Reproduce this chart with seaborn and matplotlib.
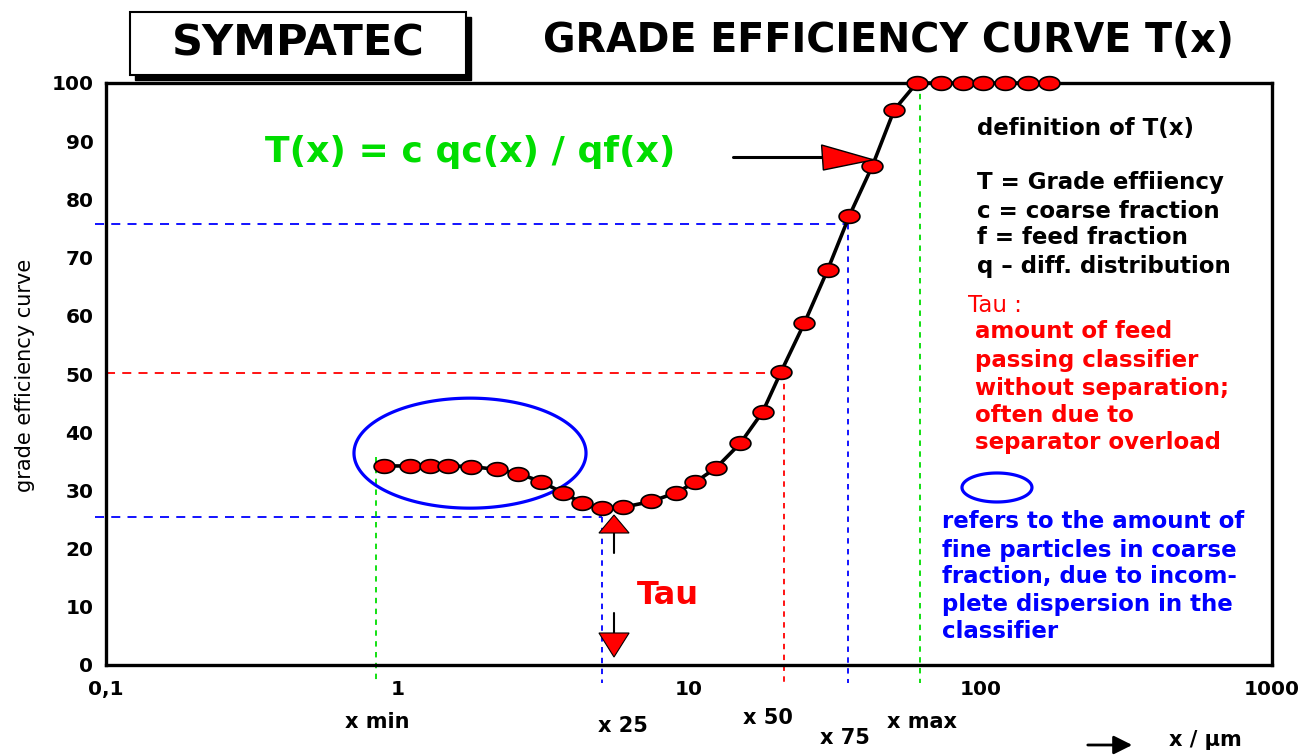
import numpy as np
import matplotlib
matplotlib.use("Agg")
import matplotlib.pyplot as plt
import seaborn as sns
import pandas as pd
from matplotlib.path import Path
from matplotlib.patches import Rectangle, Polygon, FancyArrowPatch
from matplotlib.ticker import FixedLocator, FixedFormatter, NullFormatter, LogLocator, MultipleLocator

# ---------------- data ----------------
particle_size_um = [0.90, 1.10, 1.29, 1.49, 1.79, 2.19, 2.60, 3.11, 3.69, 4.28,
                    5.01, 5.95, 7.42, 9.03, 10.5, 12.4, 15.0, 17.9, 20.7, 24.9,
                    29.9, 35.5, 42.6, 50.6, 60.4, 73.0, 87.3, 101.7, 121.4, 145.9, 172.2]
grade_efficiency = [34.2, 34.2, 34.2, 34.2, 34.1, 33.6, 32.9, 31.5, 29.6, 27.9,
                    26.9, 27.1, 28.1, 29.6, 31.4, 33.9, 38.1, 43.5, 50.4, 58.8,
                    67.9, 77.2, 85.8, 95.4, 100, 100, 100, 100, 100, 100, 100]

x_tick_values = [0.1, 1, 10, 100, 1000]
x_tick_labels = ["0,1", "1", "10", "100", "1000"]
y_tick_values = [0, 10, 20, 30, 40, 50, 60, 70, 80, 90, 100]

# characteristic sizes (µm) and levels (%)
x_min, x_25, x_50, x_75, x_max = 0.844, 5.01, 21.2, 35.2, 62.0
tau_level, t50_level, t75_level = 25.4, 50.1, 75.8

definition_lines = ["definition of T(x)", "T = Grade effiiency", "c = coarse fraction",
                    "f = feed fraction", "q \u2013 diff. distribution"]
tau_lines = ["amount of feed", "passing classifier", "without separation;",
             "often due to", "separator overload"]
blue_lines = ["refers to the amount of", "fine particles in coarse",
              "fraction, due to incom-", "plete dispersion in the", "classifier"]
size_labels = ["x min", "x 25", "x 50", "x 75", "x max"]

# ---------------- style ----------------
sns.set_style("white")
plt.rcParams['font.family'] = ['DejaVu Sans']
plt.rcParams['text.color'] = 'black'
plt.rcParams['axes.labelcolor'] = 'black'
plt.rcParams['xtick.color'] = 'black'
plt.rcParams['ytick.color'] = 'black'

W, H = 1300, 756
fig = plt.figure(figsize=(13, 7.56), dpi=100)
fig.patch.set_facecolor("white")
ax = fig.add_axes([106 / W, 91 / H, 1166 / W, 582 / H])

def fx(px):
    return px / W

def fy(py):
    return 1 - py / H

# ellipse shaped marker
t = np.linspace(0, 2 * np.pi, 41)
marker_path = Path(np.c_[np.cos(t), 0.66 * np.sin(t)], closed=True)

df = pd.DataFrame({"x": particle_size_um, "T": grade_efficiency})

ax.set_xscale("log")
ax.set_xlim(0.1, 1000)
ax.set_ylim(0, 100)

# reference lines
blue, red, green = "#0000ff", "#ff0000", "#00dd00"
ybot = -3.1
ax.plot([0.092, x_25], [tau_level, tau_level], color=blue, lw=1.3, ls=(0, (5, 4)), clip_on=False)
ax.plot([x_25, x_25], [tau_level, ybot], color=blue, lw=1.3, ls=(0, (3, 3)), clip_on=False)
ax.plot([0.092, x_75], [t75_level, t75_level], color=blue, lw=1.3, ls=(0, (5, 4)), clip_on=False)
ax.plot([x_75, x_75], [t75_level, ybot], color=blue, lw=1.3, ls=(0, (3, 3)), clip_on=False)
ax.plot([0.1, x_50], [t50_level, t50_level], color=red, lw=1.3, ls=(0, (5, 4)), clip_on=False)
ax.plot([x_50, x_50], [t50_level, ybot], color=red, lw=1.3, ls=(0, (3, 3)), clip_on=False)
ax.plot([x_min, x_min], [35.8, ybot], color=green, lw=1.3, ls=(0, (3, 3)), clip_on=False)
ax.plot([x_max, x_max], [100, ybot], color=green, lw=1.3, ls=(0, (3, 3)), clip_on=False)

# curve
sns.lineplot(data=df, x="x", y="T", ax=ax, color="black", linewidth=2.6,
             marker=marker_path, markersize=15, markerfacecolor="red",
             markeredgecolor="black", markeredgewidth=1.2,
             estimator=None, sort=False, zorder=6, clip_on=False)

# big ellipse around fine-particle plateau
te = np.linspace(0, 2 * np.pi, 241)
ecx, ecy, erx, ery = np.log10(1.773), 36.4, 0.398, 9.45
ax.add_patch(Polygon(np.c_[10 ** (ecx + erx * np.cos(te)), ecy + ery * np.sin(te)],
                     closed=True, fill=False, ec=blue, lw=2.3, zorder=4))
# small legend ellipse
scx, scy, srx, sry = np.log10(113.9), 30.5, 0.12, 2.49
ax.add_patch(Polygon(np.c_[10 ** (scx + srx * np.cos(te)), scy + sry * np.sin(te)],
                     closed=True, fill=False, ec=blue, lw=2.3, zorder=4))

# arrow pointing to curve
ax.plot([14.2, 28.7], [87.3, 87.3], color="black", lw=2.2, zorder=5)
ax.add_patch(Polygon([(28.5, 89.35), (28.9, 85.05), (42.9, 86.8)], closed=True,
                     fc="red", ec="black", lw=1, zorder=7))

# Tau arrows
ax.plot([5.53, 5.53], [22.68, 19.24], color="black", lw=1.5)
ax.add_patch(Polygon([(4.91, 22.68), (6.23, 22.68), (5.53, 25.77)], closed=True,
                     fc="red", ec="black", lw=0.8, zorder=7))
ax.plot([5.53, 5.53], [8.93, 5.5], color="black", lw=1.5)
ax.add_patch(Polygon([(4.91, 5.5), (6.23, 5.5), (5.53, 1.37)], closed=True,
                     fc="red", ec="black", lw=0.8, zorder=7))
ax.text(8.47, 12.0, "Tau", color=red, fontsize=23, fontweight="bold", ha="center", va="center")

# axes styling
ax.xaxis.set_major_locator(FixedLocator(x_tick_values))
ax.xaxis.set_major_formatter(FixedFormatter(x_tick_labels))
ax.xaxis.set_minor_locator(LogLocator(base=10, subs=np.arange(2, 10)))
ax.xaxis.set_minor_formatter(NullFormatter())
ax.set_yticks(y_tick_values)
ax.yaxis.set_minor_locator(MultipleLocator(5))
ax.tick_params(which="major", direction="in", length=9, width=1.5, labelsize=14.5, pad=9,
               colors="black", labelcolor="black")
ax.tick_params(which="minor", direction="in", length=5, width=1.2, colors="black")
ax.tick_params(axis="x", which="major", pad=11)
for lbl in ax.get_xticklabels() + ax.get_yticklabels():
    lbl.set_fontweight("bold")
    lbl.set_color("black")
for s in ax.spines.values():
    s.set_linewidth(2.4)
    s.set_color("black")
ax.set_xlabel("")
ax.set_ylabel("grade efficiency curve", fontsize=15, color="black")
ax.yaxis.set_label_coords(-0.061, 0.498)

# headline
fig.patches.append(Rectangle((fx(135), fy(80)), 336 / W, 63 / H, transform=fig.transFigure,
                             fc="black", ec="black", lw=1, zorder=1))
fig.patches.append(Rectangle((fx(130), fy(75)), 336 / W, 63 / H, transform=fig.transFigure,
                             fc="white", ec="black", lw=1.5, zorder=2))
fig.text(fx(298), fy(43), "SYMPATEC", fontsize=31, fontweight="bold", color="black",
         ha="center", va="center", zorder=3)
fig.text(fx(543), fy(41), "GRADE EFFICIENCY CURVE T(x)", fontsize=28.5, fontweight="bold",
         color="black", ha="left", va="center")
fig.text(fx(265), fy(152), "T(x) = c qc(x) / qf(x)", fontsize=26, fontweight="bold",
         color=green, ha="left", va="center")

# right side annotations
for line, py in zip(definition_lines, [128, 183, 211, 238, 266]):
    fig.text(fx(977), fy(py), line, fontsize=16.5, fontweight="bold", color="black", ha="left", va="center")
fig.text(fx(968), fy(305), "Tau :", fontsize=16.5, color=red, ha="left", va="center")
for line, py in zip(tau_lines, [332, 360, 388, 416, 443]):
    fig.text(fx(975), fy(py), line, fontsize=16.5, fontweight="bold", color=red, ha="left", va="center")
for line, py in zip(blue_lines, [522, 550, 577, 605, 632]):
    fig.text(fx(942), fy(py), line, fontsize=16.5, fontweight="bold", color=blue, ha="left", va="center")

# size labels under axis
for lab, (px, py) in zip(size_labels, [(377, 722), (623, 726), (768, 718), (845, 738), (922, 722)]):
    fig.text(fx(px), fy(py), lab, fontsize=15, fontweight="bold", color="black", ha="center", va="center")
fig.text(fx(1205), fy(740), "x / \u00b5m", fontsize=15, fontweight="bold", color="black",
         ha="center", va="center")
fig.add_artist(FancyArrowPatch((fx(1085), fy(745)), (fx(1135), fy(745)),
                               transform=fig.transFigure, arrowstyle="-|>",
                               mutation_scale=28, lw=2, color="black"))

fig.savefig("out.png", dpi=100, facecolor="white")
